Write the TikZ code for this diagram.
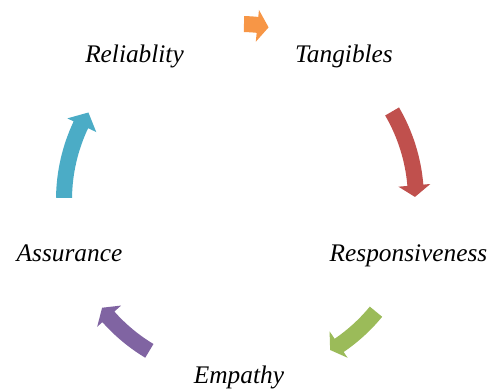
\documentclass[tikz,border=0pt]{standalone}
\usepackage{fontspec}
\setmainfont{Liberation Serif}
\usepackage{tikz}
\usepackage{color}

\definecolor{cycorange}{HTML}{F79646}
\definecolor{cycred}{HTML}{C0504D}
\definecolor{cycgreen}{HTML}{9BBB59}
\definecolor{cycpurple}{HTML}{8064A2}
\definecolor{cycteal}{HTML}{4BACC6}

\begin{document}
\begin{tikzpicture}[x=0.75pt,y=0.75pt,
  quality/.style={inner sep=0pt,anchor=base,
    font=\fontsize{19}{23}\selectfont\itshape}]
  \useasboundingbox (-240,-191) rectangle (247,200);
  \coordinate (hub) at (0,0);
  \node[quality] (tangibles)  at (104,137)   {Tangibles};
  \node[quality] (responsive) at (168.5,-62) {Responsiveness};
  \node[quality] (empathy)    at (-1,-184)   {Empathy};
  \node[quality] (assurance)  at (-170.5,-62) {Assurance};
  \node[quality] (reliab)     at (-105.5,137) {Reliablity};
  % block arcs: colour / tail angle / head base angle / tip angle
  \foreach \col/\a/\b/\t in {cycorange/88.7/84.3/80.6,
                             cycred/30.2/4.8/1,
                             cycgreen/-39.4/-55.7/-59,
                             cycpurple/-121/-138.4/-142,
                             cycteal/179.3/154.7/150}
    \fill[\col] (\a:184) arc[start angle=\a,end angle=\b,radius=184]
      -- (\b:191) -- (\t:175) -- (\b:159) -- (\b:168)
      arc[start angle=\b,end angle=\a,radius=168] -- cycle;
\end{tikzpicture}
\end{document}
